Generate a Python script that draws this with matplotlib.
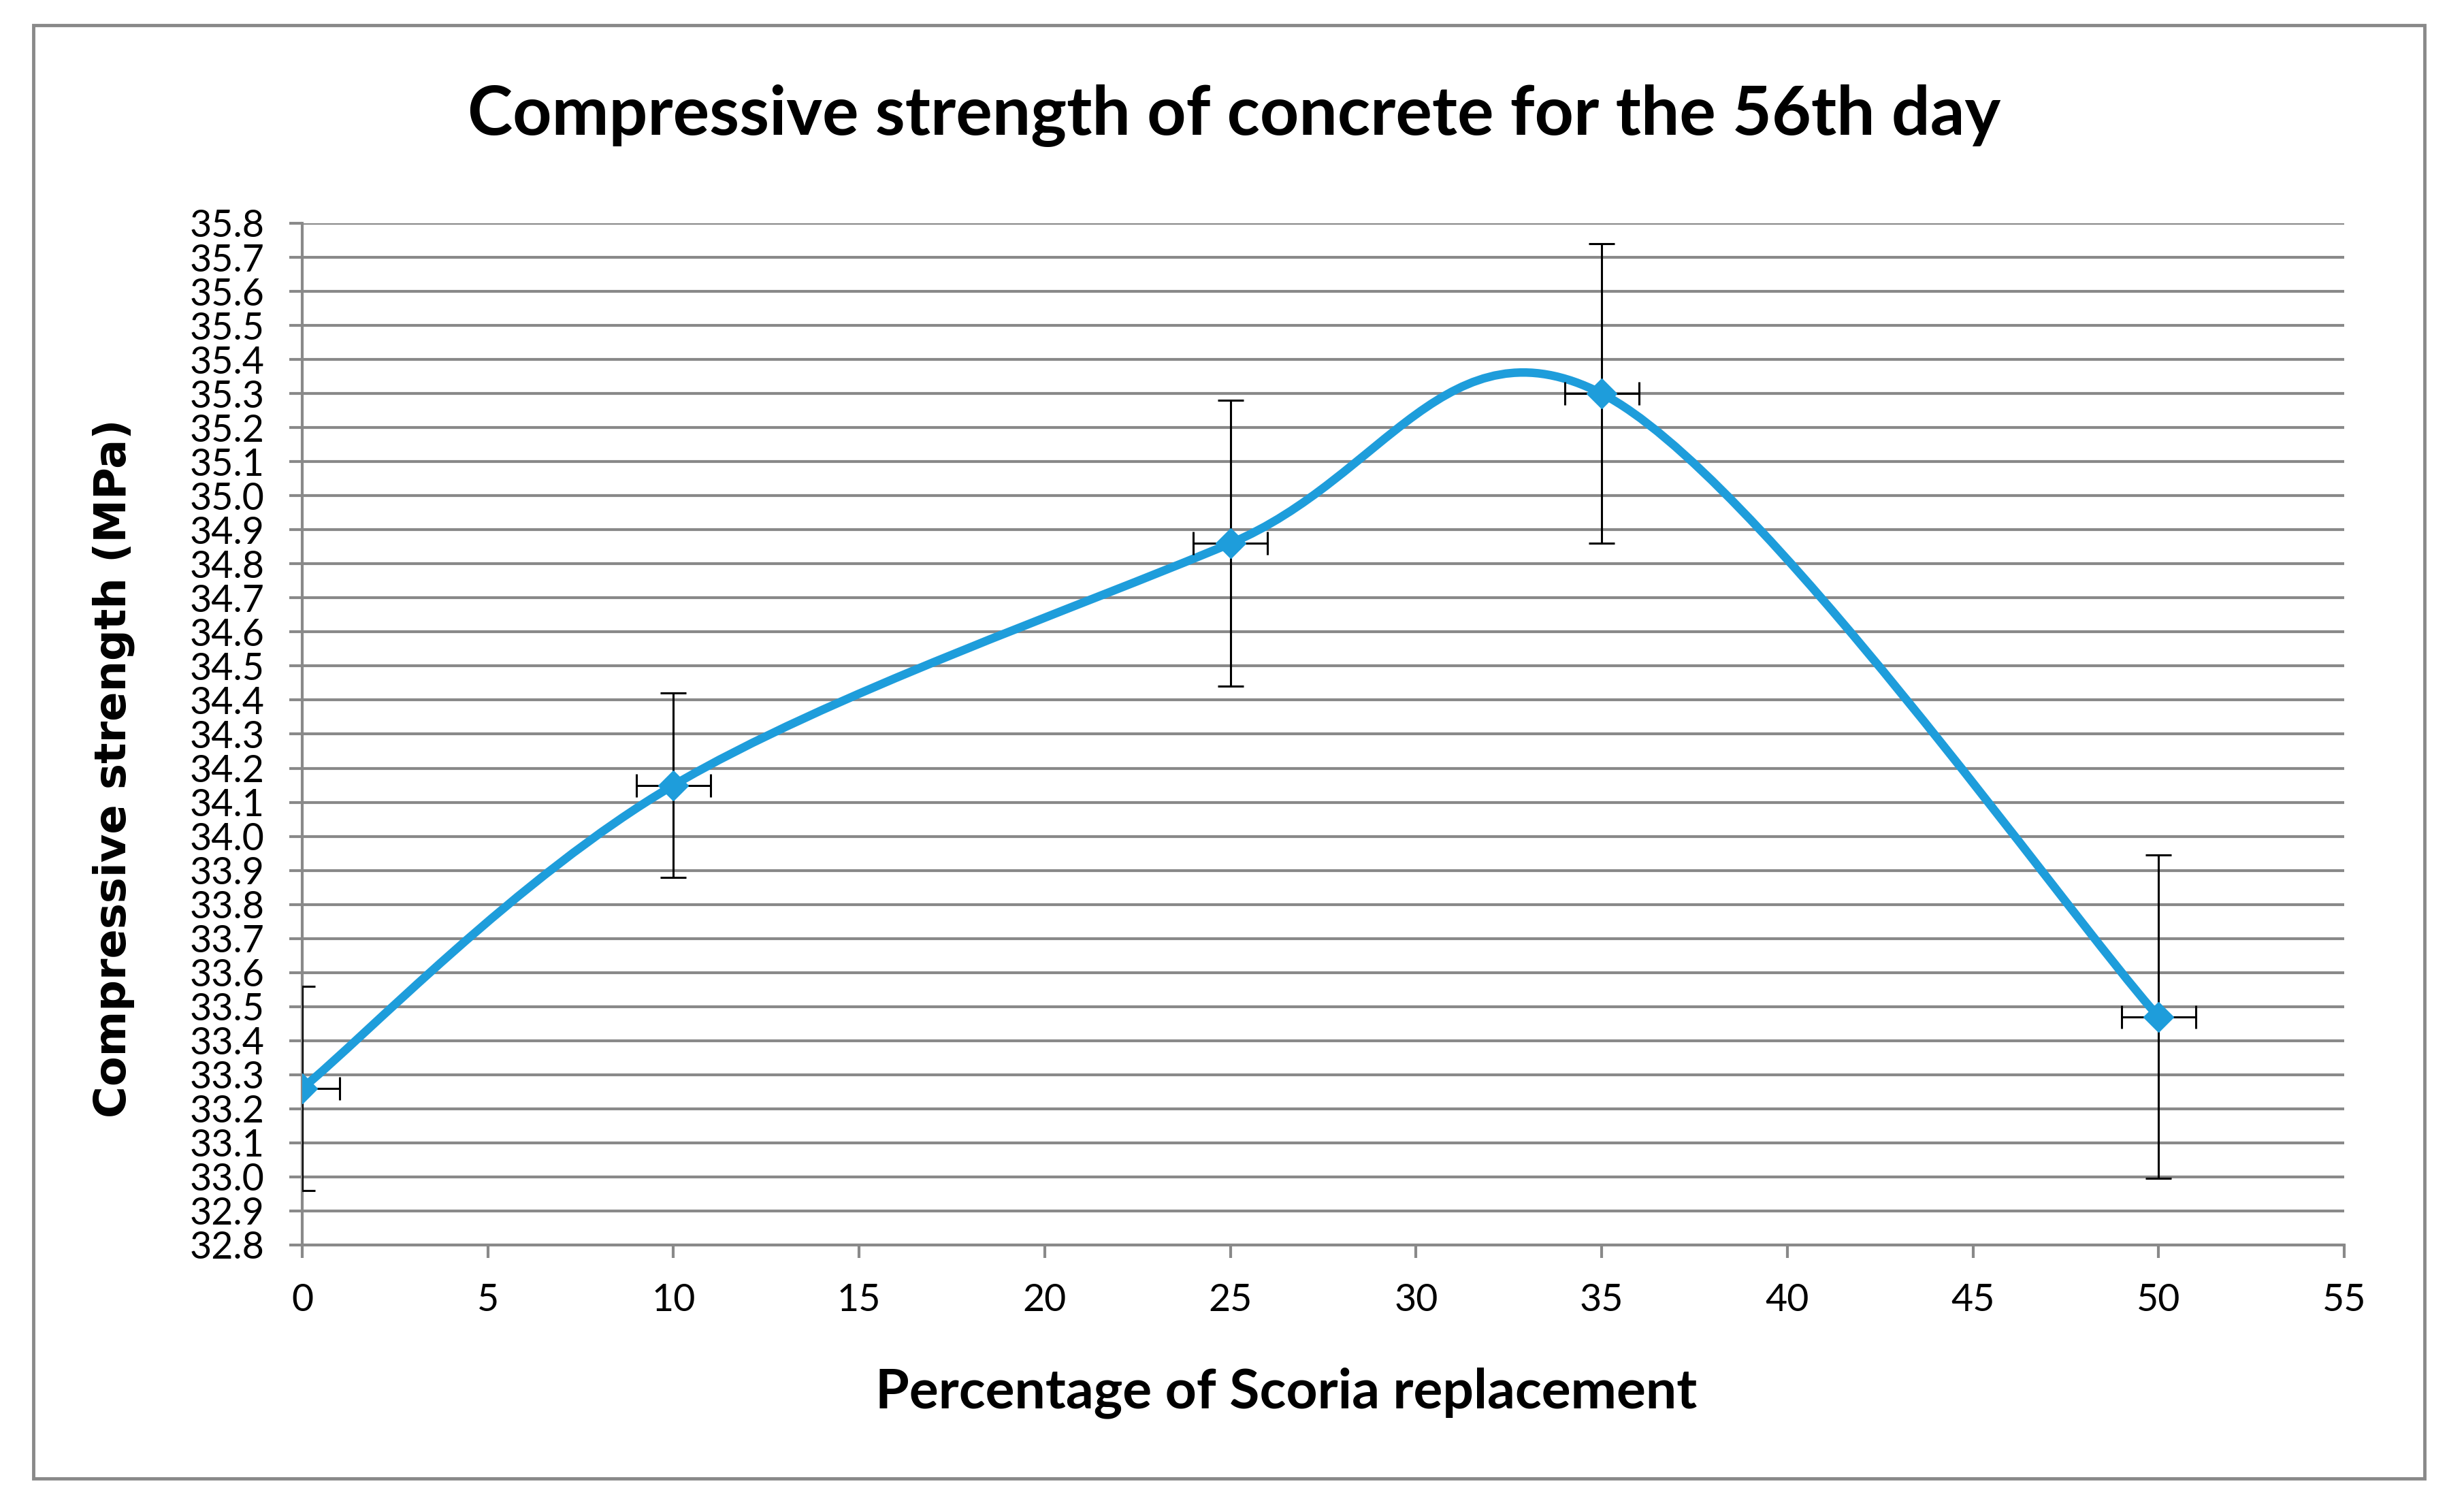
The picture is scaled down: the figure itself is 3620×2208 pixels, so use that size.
import matplotlib
matplotlib.use('Agg')
import matplotlib.pyplot as plt
import matplotlib.patches as patches
from matplotlib.path import Path
import numpy as np

# datos
replacement = [0, 10, 25, 35, 50]
strength = [33.26, 34.15, 34.86, 35.30, 33.47]
strength_err = [0.30, 0.27, 0.42, 0.44, 0.475]
replacement_err = [1, 1, 1, 1, 1]

xticks = list(range(0, 60, 5))
yticks = [round(32.8 + 0.1 * i, 1) for i in range(31)]

azul = '#1E9DDB'
gris = '#898989'

fig = plt.figure(figsize=(36.2, 22.08), dpi=100)
ax = fig.add_axes([0.12265, 0.17165, 0.82873, 0.6798])

# borde exterior del grafico
fig.patches.append(patches.Rectangle((49 / 3620, 1 - 2172 / 2208), (3562 - 49) / 3620,
                                     (2172 - 37) / 2208, transform=fig.transFigure,
                                     fill=False, edgecolor=gris, linewidth=3.5))

# linea suavizada tipo Excel (bezier catmull-rom)
pts = np.column_stack([replacement, strength])
ext = np.vstack([pts[0], pts, pts[-1]])
verts = [tuple(pts[0])]
codes = [Path.MOVETO]
for i in range(len(pts) - 1):
    p0, p1, p2, p3 = ext[i], ext[i + 1], ext[i + 2], ext[i + 3]
    c1 = p1 + (p2 - p0) / 6
    c2 = p2 - (p3 - p1) / 6
    verts += [tuple(c1), tuple(c2), tuple(p2)]
    codes += [Path.CURVE4] * 3
ax.add_patch(patches.PathPatch(Path(verts, codes), fill=False, edgecolor=azul,
                               linewidth=9, capstyle='round', joinstyle='round', zorder=3))

ax.errorbar(replacement, strength, yerr=strength_err, fmt='none', ecolor='black',
            elinewidth=2.2, capsize=14, capthick=2.2, zorder=4)
ax.errorbar(replacement, strength, xerr=replacement_err, fmt='none', ecolor='black',
            elinewidth=2.2, capsize=12, capthick=2.2, zorder=4)
ax.plot(replacement, strength, linestyle='none', marker='D', markersize=22,
        color=azul, zorder=5)

ax.set_xlim(0, 55)
ax.set_ylim(32.8, 35.8)
ax.set_xticks(xticks)
ax.set_yticks(yticks)
ax.set_yticklabels([f'{v:.1f}' for v in yticks])
ax.grid(axis='y', color=gris, linewidth=3)
ax.set_axisbelow(True)
for s in ['top', 'right']:
    ax.spines[s].set_visible(False)
for s in ['left', 'bottom']:
    ax.spines[s].set_color(gris)
    ax.spines[s].set_linewidth(3)
ax.tick_params(axis='both', direction='out', length=14, width=3, color=gris,
               labelsize=40, pad=26)
for lab in ax.get_xticklabels() + ax.get_yticklabels():
    lab.set_family('Lato')

fig.text(0.501, 0.923, 'Compressive strength of concrete for the 56th day',
         ha='center', va='center', fontsize=72, fontweight='bold', family='Lato')
fig.text(0.522, 0.0734, 'Percentage of Scoria replacement', ha='center', va='center',
         fontsize=58, fontweight='bold', family='Lato')
fig.text(0.046, 0.489, 'Compressive strength (MPa)', ha='center', va='center',
         rotation=90, fontsize=46, fontweight='bold', family='DejaVu Sans')

fig.savefig('out.png', dpi=100, facecolor='white')
